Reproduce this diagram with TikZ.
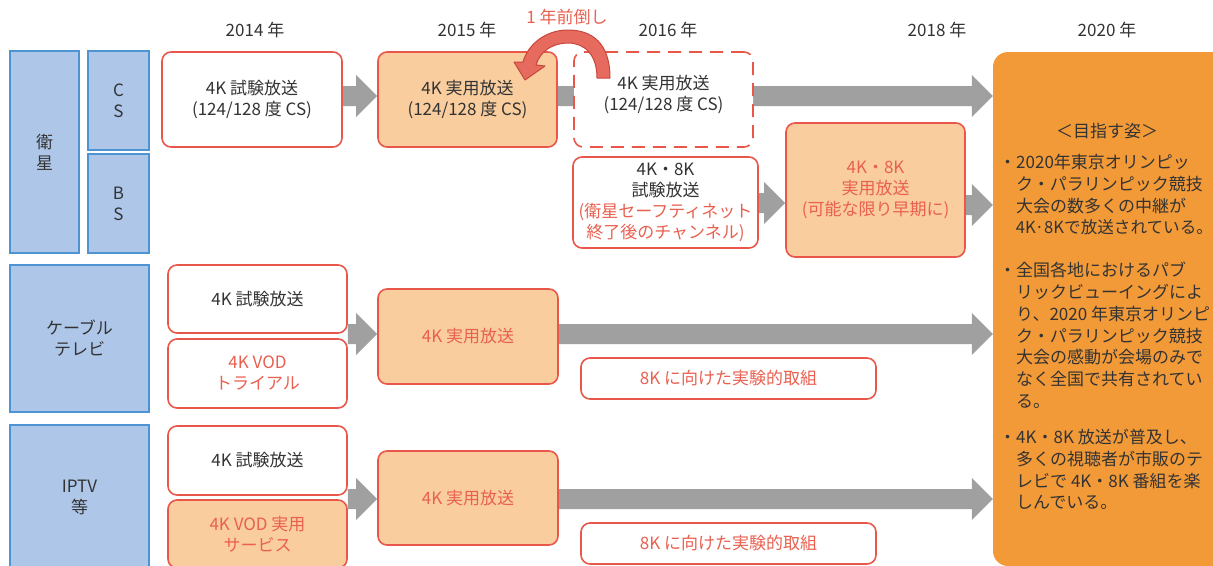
\documentclass[tikz,border=0pt]{standalone}
\usepackage{fontspec}
\setmainfont{Noto Sans CJK JP}
\usetikzlibrary{calc,backgrounds}
\definecolor{redc}{RGB}{232,87,74}
\definecolor{redt}{RGB}{233,96,80}
\definecolor{peach}{RGB}{249,205,158}
\definecolor{orangec}{RGB}{242,154,56}
\definecolor{grayc}{RGB}{160,160,160}
\definecolor{bluef}{RGB}{174,199,233}
\definecolor{blued}{RGB}{79,148,210}
\definecolor{txt}{RGB}{51,51,51}
\definecolor{arcf}{RGB}{231,106,94}
\definecolor{arcd}{RGB}{200,70,60}
\newcommand\fs{\fontsize{17pt}{21pt}\selectfont}
\newcommand\fsg{\fontsize{17pt}{21.8pt}\selectfont}
\newcommand\blockarrow[2]{\fill[grayc] ($(#1)+(0,-10)$) -- ($(#2)+(-21,-10)$) -- ($(#2)+(-21,-21)$) -- (#2) -- ($(#2)+(-21,21)$) -- ($(#2)+(-21,10)$) -- ($(#1)+(0,10)$) -- cycle;}
\tikzset{
  base/.style={font=\fs, text=txt, align=center, inner sep=0pt},
  wbox/.style={base, draw=redc, line width=1.6pt, rounded corners=9pt, fill=white},
  pbox/.style={wbox, fill=peach, text=redt},
  bbox/.style={base, draw=blued, line width=1.6pt, fill=bluef},
  sz/.style 2 args={minimum width=#1pt, minimum height=#2pt},
  ylab/.style={base},
  gtext/.style={font=\fsg, text=txt, align=left, inner sep=0pt, anchor=north west},
}
\begin{document}
\begin{tikzpicture}[x=1pt,y=-1pt]
\useasboundingbox (0,0) rectangle (1213,565);
\clip (0,0) rectangle (1213,565);

% year labels
\node[ylab] (y14) at (255,30) {2014 年};
\node[ylab] (y15) at (467,30) {2015 年};
\node[ylab] (y16) at (668,30) {2016 年};
\node[ylab] (y18) at (937,30) {2018 年};
\node[ylab] (y20) at (1107,30) {2020 年};
\node[base, text=redt] (mae) at (567,17) {1 年前倒し};

% blue category boxes
\node[bbox, sz={69}{202}] (sat) at (44.5,152) {衛\\星};
\node[bbox, sz={61}{99}] (cs) at (118.5,100.5) {C\\S};
\node[bbox, sz={61}{99}] (bs) at (118.5,203.5) {B\\S};
\node[bbox, sz={139}{147}] (cable) at (79.5,338.5) {ケーブル\\テレビ};
\node[bbox, sz={139}{145}] (iptv) at (79.5,497.5) {IPTV\\等};

% goal box
\node[fill=orangec, rounded corners=15pt, sz={237}{514}, inner sep=0pt] (goal) at (1111.5,309) {};
\node[base] (gtitle) at (1107,131) {＜目指す姿＞};
\node[gtext] (g1) at (999,154) {・2020年東京オリンピッ\\　ク・パラリンピック競技\\　大会の数多くの中継が\\{\fontsize{16.6pt}{21.8pt}\selectfont　4K·8Kで放送されている。}};
\node[gtext] (g2) at (999,262) {・全国各地におけるパブ\\　リックビューイングによ\\　り、2020 年東京オリンピ\\　ク・パラリンピック競技\\　大会の感動が会場のみで\\　なく全国で共有されてい\\　る。};
\node[gtext] (g3) at (999,429) {・4K・8K 放送が普及し、\\　多くの視聴者が市販のテ\\　レビで 4K・8K 番組を楽\\　しんでいる。};

% satellite row
\node[wbox, sz={180}{95}] (n14) at (252,99.5) {4K 試験放送\\(124/128 度 CS)};
\node[pbox, text=txt, sz={179}{95}] (n15) at (467.5,99.5) {4K 実用放送\\(124/128 度 CS)};
\node[wbox, dash pattern=on 13pt off 8pt, sz={179}{95}] (n16) at (663.5,99.5) {};
\node[base] (n16t) at (663.5,94.5) {4K 実用放送\\(124/128 度 CS)};
\node[wbox, sz={185}{91}] (bs16) at (665.5,202.5) {4K・8K\\試験放送\\\color{redt}(衛星セーフティネット\\\color{redt}終了後のチャンネル)};
\node[pbox, sz={179}{134}] (bs18) at (875.5,190) {4K・8K\\実用放送\\(可能な限り早期に)};

% cable row
\node[wbox, sz={179}{68}] (c1) at (257.5,299) {4K 試験放送};
\node[wbox, text=redt, sz={179}{69}] (c2) at (257.5,373.5) {4K VOD\\トライアル};
\node[pbox, sz={180}{95}] (c3) at (468,336.5) {4K 実用放送};
\node[wbox, text=redt, sz={295}{41}] (c4) at (728.5,378.5) {8K に向けた実験的取組};

% iptv row
\node[wbox, sz={179}{69}] (i1) at (257.5,460.5) {4K 試験放送};
\node[pbox, sz={179}{68}] (i2) at (257.5,534) {4K VOD 実用\\サービス};
\node[pbox, sz={180}{94}] (i3) at (468,498) {4K 実用放送};
\node[wbox, text=redt, sz={295}{41}] (i4) at (728.5,543.5) {8K に向けた実験的取組};

% row levels
\coordinate (r1) at (0,96);
\coordinate (r2) at (0,203);
\coordinate (r2b) at (0,205);
\coordinate (r3) at (0,334);
\coordinate (r4) at (0,499);

\begin{pgfonlayer}{background}
\blockarrow{n14.east |- r1}{n15.west |- r1}
\blockarrow{n15.east |- r1}{goal.west |- r1}
\blockarrow{bs16.east |- r2}{bs18.west |- r2}
\blockarrow{bs18.east |- r2b}{goal.west |- r2b}
\blockarrow{c1.east |- r3}{c3.west |- r3}
\blockarrow{c3.east |- r3}{goal.west |- r3}
\blockarrow{i1.east |- r4}{i3.west |- r4}
\blockarrow{i3.east |- r4}{goal.west |- r4}
\end{pgfonlayer}

% curved "1 year earlier" arrow from n16 to n15
\filldraw[fill=arcf, draw=arcd, line width=1pt, line join=round]
  (610,78) .. controls (610,42) and (591,30) .. (568,30)
  .. controls (546,30) and (528,44) .. (523,62)
  -- (514,62) -- (525,80) -- (545,66) -- (536,65)
  .. controls (540,51) and (553,43) .. (568,43)
  .. controls (584,43) and (597,54) .. (597,78) -- cycle;
\end{tikzpicture}
\end{document}
